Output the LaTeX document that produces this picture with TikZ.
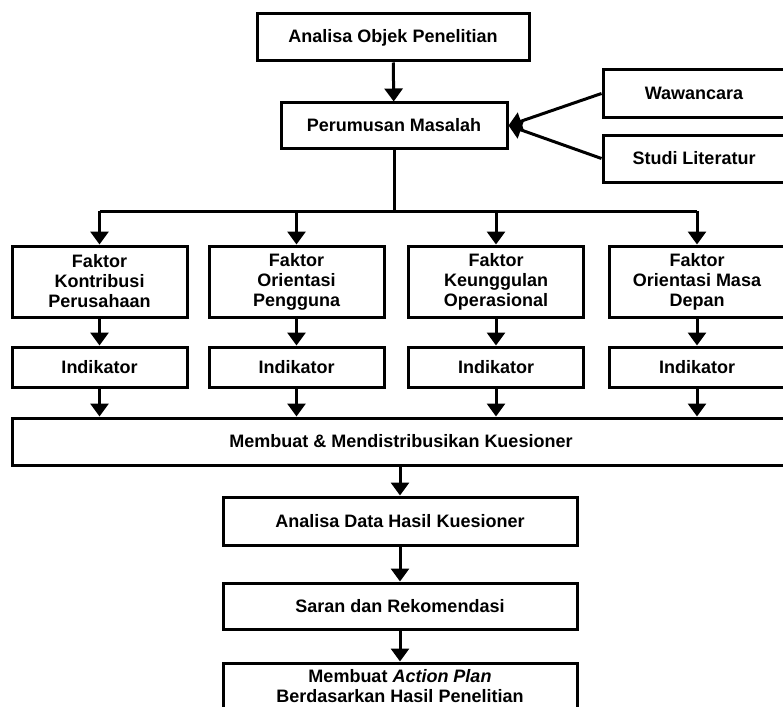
\documentclass[tikz,border=0pt]{standalone}
\usepackage{fontspec}
\setmainfont{Liberation Sans}
\usetikzlibrary{arrows.meta}

\begin{document}
\begin{tikzpicture}[x=1pt, y=-1pt, line width=3pt,
  font=\fontsize{18}{20}\selectfont\bfseries,
  box/.style={draw, align=center, inner sep=2pt, minimum width=#1},
  box/.default=226pt,
  fakt/.style={box=175pt, minimum height=71pt},
  ind/.style={box=175pt, minimum height=40pt},
  arr/.style={-{Triangle[width=18pt,length=13pt]}}]

\useasboundingbox (0,0) rectangle (783,706);
\clip (0,0) rectangle (783,706);

\node[box=272pt, minimum height=47pt] (objek) at (393,37.5) {Analisa Objek Penelitian};
\node[box=226pt, minimum height=45pt] (masalah) at (394,125.5) {Perumusan Masalah};
\node[box=182pt, minimum height=47pt] (wawan) at (694,93.5) {Wawancara};
\node[box=182pt, minimum height=47pt] (studi) at (694,158.5) {Studi Literatur};

\node[fakt] (faktA) at (99.5,281.5)  {Faktor\\Kontribusi\\Perusahaan};
\node[fakt] (faktB) at (296.5,281.5) {Faktor\\Orientasi\\Pengguna};
\node[fakt] (faktC) at (496,281.5)   {Faktor\\Keunggulan\\Operasional};
\node[fakt] (faktD) at (697,281.5)   {Faktor\\Orientasi Masa\\Depan};

\node[ind] (indA) at (99.5,367)  {Indikator};
\node[ind] (indB) at (296.5,367) {Indikator};
\node[ind] (indC) at (496,367)   {Indikator};
\node[ind] (indD) at (697,367)   {Indikator};

\node[box=778pt, minimum height=47pt] (kuesioner) at (401,441.5) {Membuat \& Mendistribusikan Kuesioner};
\node[box=354pt, minimum height=48pt] (hasil) at (400,521) {Analisa Data Hasil Kuesioner};
\node[box=354pt, minimum height=46pt] (saran) at (400,606) {Saran dan Rekomendasi};
\node[box=354pt, minimum height=46pt] (plan) at (400,686) {Membuat \textit{Action Plan}\\Berdasarkan Hasil Penelitian};

% top of the flow
\draw[arr] (objek) -- (masalah);
\draw[arr] (wawan.west) -- (masalah.east);
\draw[arr] (studi.west) -- (masalah.east);

% split into the four factors
\coordinate (bus) at (394,211);
\draw (masalah.south) -- (bus);
\draw (faktA.north |- bus) -- (faktD.north |- bus);
\foreach \k in {A,B,C,D} {
  \draw[arr] (fakt\k.north |- bus) -- (fakt\k);
  \draw[arr] (fakt\k) -- (ind\k);
  \draw[arr] (ind\k) -- (ind\k |- kuesioner.north);
}

\draw[arr] (hasil |- kuesioner.south) -- (hasil);
\draw[arr] (hasil) -- (saran);
\draw[arr] (saran) -- (plan);
\end{tikzpicture}
\end{document}
